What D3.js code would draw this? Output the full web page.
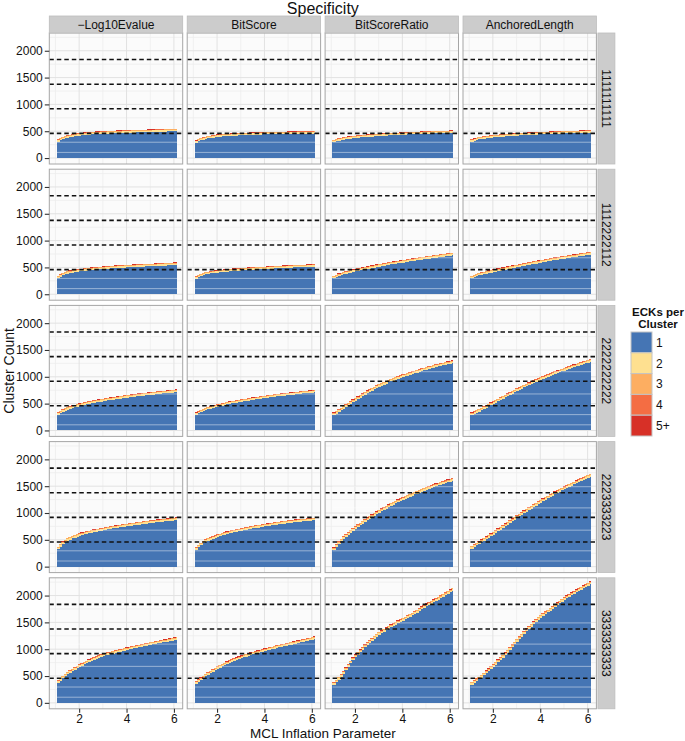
<!DOCTYPE html>
<html><head><meta charset="utf-8">
<script src="https://cdn.jsdelivr.net/npm/d3@7"></script>
<style>
body{margin:0;background:#fff}
text{font-family:"Liberation Sans",Arial,Helvetica,sans-serif;fill:#111}
</style>
</head><body>
<svg id="chart" width="685" height="741"></svg>
<script>
// ---------------- DATA ----------------
const inflation = [1.1,1.2,1.3,1.4,1.5,1.6,1.7,1.8,1.9,2.0,2.1,2.2,2.3,2.4,2.5,2.6,2.7,2.8,2.9,3.0,
  3.1,3.2,3.3,3.4,3.5,3.6,3.7,3.8,3.9,4.0,4.1,4.2,4.3,4.4,4.5,4.6,4.7,4.8,4.9,5.0,
  5.1,5.2,5.3,5.4,5.5,5.6,5.7,5.8,5.9,6.0,6.1];
const methods = ["\u2212Log10Evalue","BitScore","BitScoreRatio","AnchoredLength"];
const profiles = ["1111111111","1112222112","2222222222","2223333223","3333333333"];
const eckCats = ["1","2","3","4","5+"];
const eckColors = ["#4575b4","#fee090","#fdae61","#f46d43","#d73027"];
const xTicks = [2,4,6];
const yTicks = [0,500,1000,1500,2000];
const thresholds = [459,918,1377,1836];
const stripeLevels = [105,295,680,1095,1490];

// clusters with 1 ECK (blue), one array per panel (row profile x column method)
const ones_r1_log = [300,330,350,366,378,388,397,405,412,418,423,428,432,436,439,442,445,448,450,452,454,456,458,460,462,464,466,468,470,471,472,474,475,477,478,479,481,482,484,485,486,488,489,491,492,493,495,496,497,499,500];
const ones_r1_bit = [285,310,330,345,355,365,374,382,389,395,399,403,406,409,412,415,418,420,423,425,427,428,430,432,433,435,436,437,439,440,441,442,443,444,445,446,447,448,449,450,451,452,452,453,454,455,456,456,457,457,458];
const ones_r1_ratio = [300,315,327,337,345,352,358,364,370,375,379,383,387,391,395,398,401,404,407,410,413,416,419,422,425,427,429,431,433,435,437,439,441,443,445,447,449,451,453,455,456,458,459,461,462,463,465,466,467,469,470];
const ones_r1_anch = [305,322,335,346,355,362,369,375,380,385,389,393,397,401,405,408,411,414,417,420,422,425,427,430,432,434,436,438,440,442,444,446,448,450,452,454,455,457,458,460,461,463,464,466,467,468,470,471,472,474,475];

const ones_r2_log = [300,328,350,370,385,395,404,412,419,425,430,435,440,445,450,454,458,462,466,470,474,477,480,484,487,490,492,495,497,500,502,505,507,510,512,514,516,518,520,522,524,526,528,530,532,534,536,538,540,543,545];
const ones_r2_bit = [290,315,337,355,370,379,387,394,400,405,410,415,419,424,428,432,435,439,442,445,448,451,454,457,460,462,465,467,470,472,474,477,479,482,484,486,488,491,493,495,497,499,501,503,505,507,508,510,512,513,515];
const ones_r2_ratio = [295,318,338,355,370,382,393,404,415,425,434,443,452,461,470,479,488,497,506,515,523,531,539,547,555,562,569,576,583,590,597,604,611,618,625,632,639,646,653,660,666,672,678,684,690,696,702,708,714,720,725];
const ones_r2_anch = [300,318,335,350,365,375,385,395,405,415,424,433,442,451,460,469,478,487,496,505,514,522,531,539,548,556,565,573,582,590,598,606,614,622,630,637,644,651,658,665,672,679,686,693,700,707,714,720,727,733,740];

const ones_r3_log = [290,320,348,370,390,405,419,432,444,455,465,475,485,495,505,513,521,529,537,545,552,559,566,573,580,586,593,599,606,612,618,623,629,634,640,645,650,655,660,665,670,675,680,685,690,694,698,702,706,711,715];
const ones_r3_bit = [290,316,340,362,380,395,409,422,434,445,455,465,475,485,495,503,511,519,527,535,542,549,556,563,570,577,584,591,598,605,611,617,623,629,635,640,645,650,655,660,665,670,675,680,685,689,693,697,701,706,710];
const ones_r3_ratio = [285,315,345,375,405,436,466,496,526,555,583,611,639,667,695,719,743,767,791,815,835,855,875,895,915,931,947,963,979,995,1009,1023,1037,1051,1065,1079,1093,1107,1121,1135,1147,1159,1171,1183,1195,1205,1215,1225,1235,1245,1255];
const ones_r3_anch = [285,307,330,352,375,399,423,447,471,495,519,543,567,591,615,639,663,687,711,735,757,779,801,823,845,865,885,905,925,945,963,981,999,1017,1035,1051,1067,1083,1099,1115,1131,1147,1163,1179,1195,1209,1223,1238,1252,1266,1280];

const ones_r4_log = [325,375,420,455,485,505,525,543,560,575,588,600,612,624,635,644,653,662,671,680,688,696,704,712,720,727,734,741,748,755,761,767,773,779,785,791,797,803,809,815,820,825,830,835,840,845,850,855,860,865,870];
const ones_r4_bit = [315,360,400,435,465,485,503,520,538,555,568,581,594,607,620,630,640,650,660,670,679,688,697,706,715,722,729,736,743,750,757,764,771,778,785,791,797,803,809,815,820,825,830,835,840,844,848,853,857,861,865];
const ones_r4_ratio = [305,365,420,470,515,555,593,631,668,705,737,769,801,833,865,893,921,949,977,1005,1031,1057,1083,1109,1135,1157,1179,1201,1223,1245,1265,1285,1305,1325,1345,1363,1381,1399,1417,1435,1451,1467,1483,1499,1515,1529,1543,1557,1572,1586,1600];
const ones_r4_anch = [335,365,395,425,455,483,511,539,567,595,627,659,691,723,755,785,815,845,875,905,935,965,995,1025,1055,1083,1111,1139,1167,1195,1221,1247,1273,1299,1325,1349,1373,1397,1421,1445,1467,1489,1511,1533,1555,1576,1597,1618,1638,1659,1680];

const ones_r5_log = [375,415,455,495,530,560,588,616,643,670,693,716,739,762,785,803,821,838,856,873,884,896,907,919,930,941,952,963,974,985,995,1005,1015,1025,1035,1045,1055,1065,1075,1085,1093,1101,1109,1117,1125,1134,1143,1152,1162,1171,1180];
const ones_r5_bit = [355,390,425,460,495,523,551,579,607,635,657,679,701,723,745,763,781,799,817,835,849,863,877,891,905,917,929,941,953,965,977,989,1001,1013,1025,1035,1045,1055,1065,1075,1085,1095,1105,1115,1125,1136,1147,1158,1168,1179,1190];
const ones_r5_ratio = [335,380,430,485,540,605,670,735,795,850,896,942,988,1034,1080,1118,1156,1194,1232,1270,1298,1326,1354,1382,1410,1434,1458,1482,1506,1530,1555,1580,1605,1630,1655,1684,1713,1742,1771,1800,1825,1850,1875,1900,1925,1952,1980,2007,2035,2062,2090];
const ones_r5_anch = [340,372,405,437,470,510,550,590,630,670,713,756,799,842,885,936,987,1038,1089,1140,1188,1236,1284,1332,1380,1422,1464,1506,1548,1590,1622,1654,1686,1718,1750,1784,1818,1852,1886,1920,1948,1976,2004,2032,2060,2085,2110,2135,2160,2185,2210];

// thin bands of multi-ECK clusters (typical count per bar, per panel, row-major)
const twos     = [28,26,26,26, 28,26,28,28, 28,26,30,30, 28,28,30,30, 28,28,30,30];
const threes   = [12,11,11,11, 12,11,12,12, 12,11,12,12, 12,12,13,13, 12,12,13,13];
const fours    = [6,5,5,5, 6,5,6,6, 6,5,6,6, 6,6,6,6, 6,6,7,7];
const fivePlus = [4,3,3,3, 3,3,3,3, 3,3,3,3, 3,3,4,4, 3,3,4,4];

const onesTable = [
  [ones_r1_log, ones_r1_bit, ones_r1_ratio, ones_r1_anch],
  [ones_r2_log, ones_r2_bit, ones_r2_ratio, ones_r2_anch],
  [ones_r3_log, ones_r3_bit, ones_r3_ratio, ones_r3_anch],
  [ones_r4_log, ones_r4_bit, ones_r4_ratio, ones_r4_anch],
  [ones_r5_log, ones_r5_bit, ones_r5_ratio, ones_r5_anch]
];

// ---------------- LAYOUT ----------------
const svg = d3.select("#chart");
const left0 = 49.3, panelW = 133.4, gapX = 4.5;
const top0 = 33, panelH = 131, gapY = 5.2;
const stripH = 17, rstripW = 17;
const xDomain = [0.74, 6.37];
const yDomain = [-111, 2331];
const barHalf = 0.05;

const stack = d3.stack().keys(eckCats);

profiles.forEach((prof, r) => {
  const py = top0 + r * (panelH + gapY);
  const y = d3.scaleLinear().domain(yDomain).range([py + panelH, py]);

  methods.forEach((meth, c) => {
    const px = left0 + c * (panelW + gapX);
    const x = d3.scaleLinear().domain(xDomain).range([px, px + panelW]);
    const pi = r * 4 + c;
    const g = svg.append("g");

    // background
    g.append("rect").attr("x", px).attr("y", py).attr("width", panelW).attr("height", panelH)
      .attr("fill", "#fbfbfb");
    // minor grid
    const yMinor = d3.range(250, 2400, 500);
    g.selectAll(".ym").data(yMinor).join("line")
      .attr("x1", px).attr("x2", px + panelW).attr("y1", d => y(d)).attr("y2", d => y(d))
      .attr("stroke", "#eeeeee").attr("stroke-width", 0.8);
    g.selectAll(".xm").data([1,3,5]).join("line")
      .attr("y1", py).attr("y2", py + panelH).attr("x1", d => x(d)).attr("x2", d => x(d))
      .attr("stroke", "#eeeeee").attr("stroke-width", 0.8);
    // major grid
    g.selectAll(".yM").data(yTicks).join("line")
      .attr("x1", px).attr("x2", px + panelW).attr("y1", d => y(d)).attr("y2", d => y(d))
      .attr("stroke", "#e2e2e2").attr("stroke-width", 1);
    g.selectAll(".xM").data(xTicks).join("line")
      .attr("y1", py).attr("y2", py + panelH).attr("x1", d => x(d)).attr("x2", d => x(d))
      .attr("stroke", "#e2e2e2").attr("stroke-width", 1);

    // stacked bars
    const ones = onesTable[r][c];
    const rows = inflation.map((v, i) => ({
      infl: v, "1": ones[i], "2": twos[pi], "3": threes[pi], "4": fours[pi], "5+": fivePlus[pi]
    }));
    const series = stack(rows);
    const lastX = inflation[inflation.length - 1];
    series.forEach((s, k) => {
      g.append("g").attr("shape-rendering", "crispEdges").selectAll("rect").data(s).join("rect")
        .attr("x", d => x(d.data.infl - barHalf))
        .attr("width", d => x(d.data.infl + barHalf) - x(d.data.infl - barHalf) + (d.data.infl === lastX ? 0 : 1))
        .attr("y", d => y(d[1]))
        .attr("height", d => Math.max(0, y(d[0]) - y(d[1])))
        .attr("fill", eckColors[k]);
    });

    // faint white stripes visible in the blue area
    const xMin = x(inflation[0] - barHalf), xMax = x(lastX + barHalf);
    g.selectAll(".st").data(stripeLevels).join("line")
      .attr("x1", xMin).attr("x2", xMax).attr("y1", d => y(d)).attr("y2", d => y(d))
      .attr("stroke", "#ffffff").attr("stroke-opacity", 0.45).attr("stroke-width", 1)
      .style("display", d => d3.max(ones) > d + 20 ? null : "none");

    // threshold dashed lines
    g.selectAll(".th").data(thresholds).join("line")
      .attr("x1", px).attr("x2", px + panelW).attr("y1", d => y(d)).attr("y2", d => y(d))
      .attr("stroke", "#111").attr("stroke-width", 1.6).attr("stroke-dasharray", "4.5,3");

    // border
    g.append("rect").attr("x", px).attr("y", py).attr("width", panelW).attr("height", panelH)
      .attr("fill", "none").attr("stroke", "#a6a6a6").attr("stroke-width", 1);

    // top strip
    if (r === 0) {
      svg.append("rect").attr("x", px).attr("y", py - stripH).attr("width", panelW).attr("height", stripH)
        .attr("fill", "#cccccc").attr("stroke", "#bdbdbd").attr("stroke-width", 0.8);
      svg.append("text").attr("x", px + panelW / 2).attr("y", py - stripH / 2).attr("dy", "0.36em")
        .attr("text-anchor", "middle").attr("font-size", 12).text(meth);
    }
    // right strip
    if (c === methods.length - 1) {
      const sx = px + panelW + 1.5;
      svg.append("rect").attr("x", sx).attr("y", py).attr("width", rstripW).attr("height", panelH)
        .attr("fill", "#cccccc").attr("stroke", "#bdbdbd").attr("stroke-width", 0.8);
      svg.append("text").attr("transform", `translate(${sx + rstripW / 2},${py + panelH / 2}) rotate(90)`)
        .attr("dy", "0.36em").attr("text-anchor", "middle").attr("font-size", 12).text(prof);
    }
    // y axis
    if (c === 0) {
      const ya = svg.append("g").attr("transform", `translate(${px},0)`)
        .call(d3.axisLeft(y).tickValues(yTicks).tickSize(4.5).tickPadding(2).tickFormat(d3.format("d")));
      ya.select(".domain").remove();
      ya.selectAll("line").attr("stroke", "#333").attr("stroke-width", 1.1);
      ya.selectAll("text").attr("font-size", 12).attr("fill", "#111")
        .style("font-family", '"Liberation Sans",Arial,sans-serif');
    }
    // x axis
    if (r === profiles.length - 1) {
      const xa = svg.append("g").attr("transform", `translate(0,${py + panelH})`)
        .call(d3.axisBottom(x).tickValues(xTicks).tickSize(4).tickPadding(1.5).tickFormat(d3.format("d")));
      xa.select(".domain").remove();
      xa.selectAll("line").attr("stroke", "#333").attr("stroke-width", 1.1);
      xa.selectAll("text").attr("font-size", 12).attr("fill", "#111")
        .style("font-family", '"Liberation Sans",Arial,sans-serif');
    }
  });
});

// titles
const plotCenterX = left0 + (4 * panelW + 3 * gapX) / 2;
svg.append("text").attr("x", plotCenterX).attr("y", 14).attr("text-anchor", "middle")
  .attr("font-size", 16).text("Specificity");
svg.append("text").attr("x", plotCenterX).attr("y", 737.8).attr("text-anchor", "middle")
  .attr("font-size", 13.5).text("MCL Inflation Parameter");
const plotCenterY = top0 + (5 * panelH + 4 * gapY) / 2;
svg.append("text").attr("transform", `translate(14,${plotCenterY}) rotate(-90)`)
  .attr("text-anchor", "middle").attr("font-size", 14).text("Cluster Count");

// legend
const lg = svg.append("g");
lg.append("text").attr("x", 658).attr("y", 316).attr("text-anchor", "middle")
  .attr("font-size", 11.5).attr("font-weight", "bold").text("ECKs per");
lg.append("text").attr("x", 658).attr("y", 327.5).attr("text-anchor", "middle")
  .attr("font-size", 11.5).attr("font-weight", "bold").text("Cluster");
const keyY = d3.scaleBand().domain(eckCats).range([332, 436]);
lg.selectAll(".key").data(eckCats).join("rect")
  .attr("x", 631).attr("y", d => keyY(d)).attr("width", 21).attr("height", keyY.bandwidth())
  .attr("fill", (d, i) => eckColors[i]).attr("stroke", "#c4c4c4").attr("stroke-width", 1);
lg.selectAll(".kl").data(eckCats).join("text")
  .attr("x", 656).attr("y", d => keyY(d) + keyY.bandwidth() / 2).attr("dy", "0.36em")
  .attr("font-size", 12).text(d => d);
</script>
</body></html>
